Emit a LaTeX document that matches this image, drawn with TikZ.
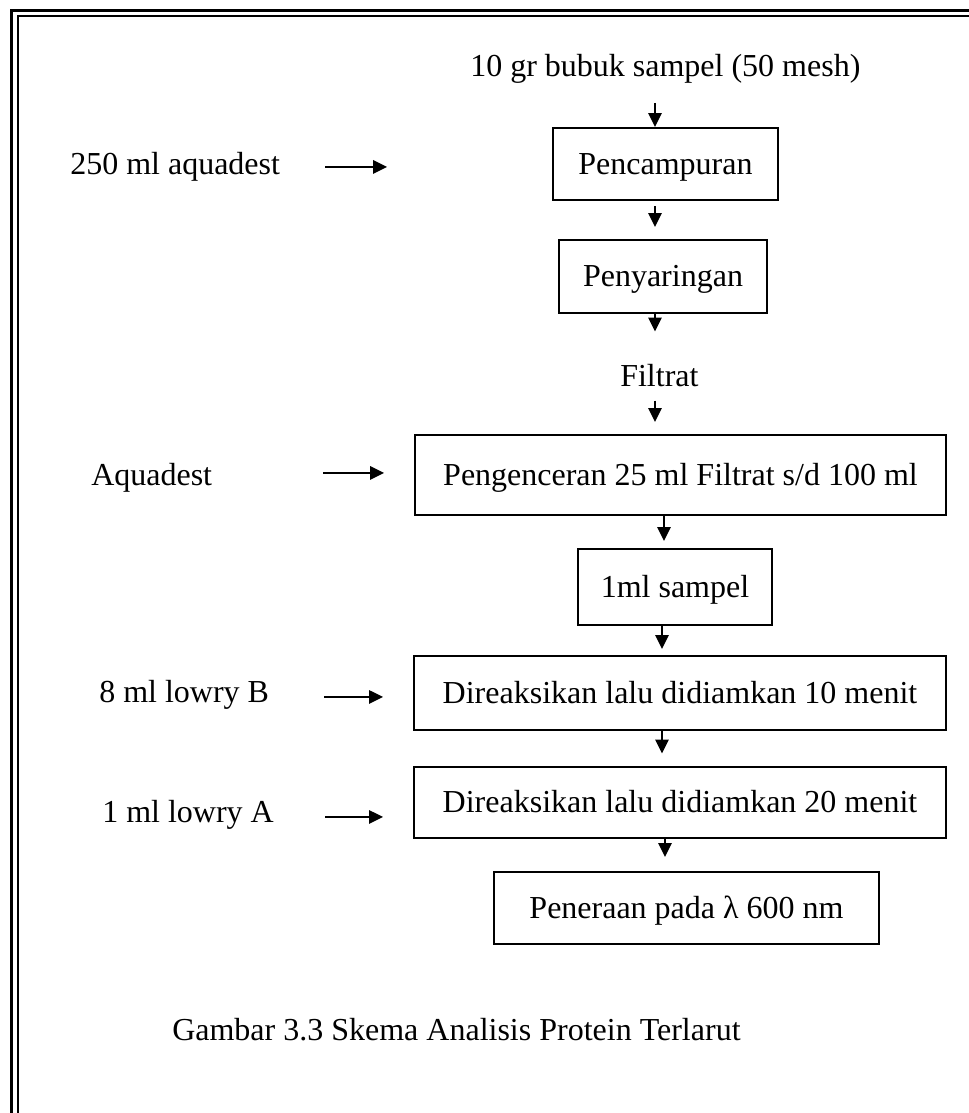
\documentclass[tikz,border=0pt]{standalone}
\usepackage{fontspec}
\setmainfont{Liberation Serif}
\usetikzlibrary{arrows.meta, calc}

\tikzset{
  procbox/.style={draw, line width=1.5pt, inner sep=0pt, align=center,
    text height=17pt, text depth=2pt},
  lbl/.style={inner sep=0pt, anchor=base west},
  flow/.style={-{Triangle[length=10.5pt, width=10pt]}, line width=1.5pt},
}

\begin{document}
\begin{tikzpicture}[x=0.75pt, y=-0.75pt, font=\fontsize{24}{28}\selectfont]
  \useasboundingbox (0,0) rectangle (969,1113);
  % double frame
  \draw[line width=2.25pt] (11.5,1113) -- (11.5,10.5) -- (969,10.5);
  \draw[line width=1.5pt] (17.5,1113) -- (17.5,16) -- (969,16);

  % arrow columns
  \coordinate (c1) at (655,0);
  \coordinate (c2) at (664,0);
  \coordinate (c3) at (662,0);
  \coordinate (c4) at (665,0);

  % main flow
  \node[lbl] (top) at (470,77) {10 gr bubuk sampel (50 mesh)};
  \node[procbox, minimum width=168.75pt, minimum height=54pt] (mix) at (665.5,164) {Pencampuran};
  \node[procbox, minimum width=156pt, minimum height=54.75pt] (filt) at (663,276.5) {Penyaringan};
  \node[lbl] (filtrat) at (620,386) {Filtrat};
  \node[procbox, minimum width=398.25pt, minimum height=60pt] (dil) at (680.5,475) {Pengenceran 25 ml Filtrat s/d 100 ml};
  \node[procbox, minimum width=145.5pt, minimum height=57pt] (samp) at (675,587) {1ml sampel};
  \node[procbox, minimum width=399pt, minimum height=55.5pt] (react10) at (680,693) {Direaksikan lalu didiamkan 10 menit};
  \node[procbox, minimum width=399pt, minimum height=53.25pt] (react20) at (680,802) {Direaksikan lalu didiamkan 20 menit};
  \node[procbox, minimum width=288.75pt, minimum height=54pt] (read) at (686.5,908) {Peneraan pada λ 600 nm};

  % side inputs
  \node[lbl] (aqua1) at (70,174) {250 ml aquadest};
  \node[lbl] (aqua2) at (91,485) {Aquadest};
  \node[lbl] (lowryB) at (99,702) {8 ml lowry B};
  \node[lbl] (lowryA) at (102,822) {1 ml lowry A};

  % caption
  \node[lbl] (caption) at (172,1040) {Gambar 3.3 Skema Analisis Protein Terlarut};

  % vertical arrows
  \draw[flow, shorten <=14pt] (top.south -| c1) -- (mix.north -| c1);
  \draw[flow, shorten <=3.75pt, shorten >=9pt] (mix.south -| c1) -- (filt.north -| c1);
  \draw[flow, shorten >=24pt] (filt.south -| c1) -- (filtrat.north -| c1);
  \draw[flow, shorten <=10.5pt, shorten >=9pt] (filtrat.south -| c1) -- (dil.north -| c1);
  \draw[flow, shorten >=5.25pt] (dil.south -| c2) -- (samp.north -| c2);
  \draw[flow, shorten >=4.5pt] (samp.south -| c3) -- (react10.north -| c3);
  \draw[flow, shorten >=9pt] (react10.south -| c3) -- (react20.north -| c3);
  \draw[flow, shorten >=10.5pt] (react20.south -| c4) -- (read.north -| c4);

  % horizontal arrows
  \draw[flow, shorten <=33.75pt, shorten >=123.75pt] ($(aqua1.mid east)+(0,-4)$) -- ($(aqua1.mid east -| mix.west)+(0,-4)$);
  \draw[flow, shorten <=83.25pt, shorten >=22.5pt] ($(aqua2.mid east)+(0,-9)$) -- ($(aqua2.mid east -| dil.west)+(0,-9)$);
  \draw[flow, shorten <=41.25pt, shorten >=22.5pt] ($(lowryB.mid east)+(0,-2)$) -- ($(lowryB.mid east -| react10.west)+(0,-2)$);
  \draw[flow, shorten <=38.25pt, shorten >=22.5pt] ($(lowryA.mid east)+(0,-2)$) -- ($(lowryA.mid east -| react20.west)+(0,-2)$);
\end{tikzpicture}
\end{document}
